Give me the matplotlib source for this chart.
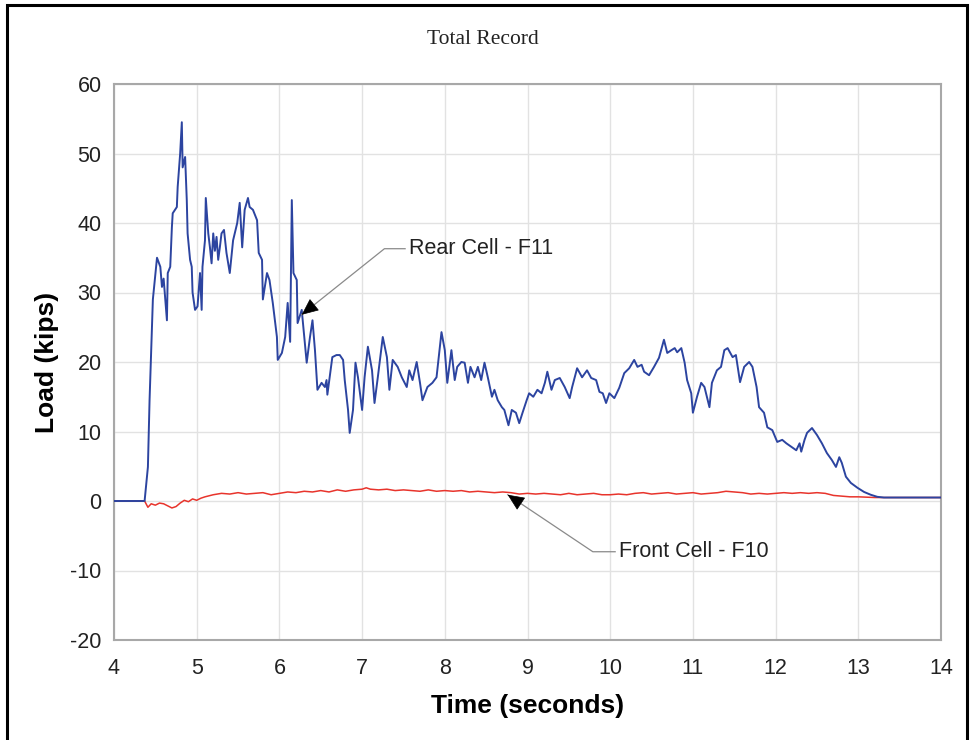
import matplotlib
matplotlib.use("Agg")
import matplotlib.pyplot as plt
from matplotlib.patches import Rectangle

# ---- data ----
rear_t = [4.00, 4.37, 4.41, 4.43, 4.47, 4.52, 4.56, 4.58, 4.60, 4.62, 4.64, 4.65, 4.68, 4.70, 4.71,
          4.76, 4.77, 4.80, 4.82, 4.83, 4.86, 4.88, 4.89, 4.92, 4.94, 4.95, 4.98, 5.01, 5.04, 5.06,
          5.07, 5.10, 5.11, 5.14, 5.16, 5.18, 5.20, 5.22, 5.24, 5.26, 5.28, 5.30, 5.33, 5.36, 5.40,
          5.44, 5.49, 5.52, 5.55, 5.58, 5.62, 5.64, 5.68, 5.73, 5.75, 5.79, 5.80, 5.85, 5.88, 5.92,
          5.97, 5.98, 6.03, 6.07, 6.10, 6.13, 6.15, 6.17, 6.21, 6.22, 6.27, 6.29, 6.33, 6.37, 6.40,
          6.43, 6.46, 6.51, 6.55, 6.57, 6.58, 6.64, 6.69, 6.73, 6.77, 6.79, 6.83, 6.85, 6.89, 6.92,
          6.95, 7.00, 7.03, 7.07, 7.12, 7.15, 7.19, 7.25, 7.30, 7.33, 7.37, 7.43, 7.48, 7.54, 7.57,
          7.61, 7.66, 7.70, 7.73, 7.79, 7.85, 7.90, 7.96, 8.00, 8.03, 8.08, 8.12, 8.15, 8.20, 8.24,
          8.28, 8.31, 8.36, 8.40, 8.44, 8.48, 8.52, 8.57, 8.60, 8.64, 8.69, 8.72, 8.77, 8.81, 8.86,
          8.90, 8.94, 8.99, 9.02, 9.07, 9.12, 9.17, 9.21, 9.24, 9.29, 9.33, 9.39, 9.45, 9.51, 9.54,
          9.60, 9.66, 9.72, 9.77, 9.83, 9.87, 9.91, 9.95, 9.99, 10.05, 10.11, 10.17, 10.23, 10.29, 10.33,
          10.38, 10.41, 10.47, 10.53, 10.59, 10.65, 10.69, 10.74, 10.78, 10.81, 10.86, 10.90, 10.93, 10.98, 11.00,
          11.05, 11.10, 11.14, 11.20, 11.23, 11.29, 11.34, 11.38, 11.42, 11.48, 11.52, 11.57, 11.62, 11.68, 11.72,
          11.77, 11.80, 11.86, 11.90, 11.96, 12.02, 12.08, 12.13, 12.19, 12.25, 12.29, 12.31, 12.35, 12.38, 12.44,
          12.50, 12.56, 12.62, 12.68, 12.73, 12.77, 12.80, 12.85, 12.91, 12.99, 13.07, 13.15, 13.23, 13.31, 14.00]
rear_load = [0.0, 0.0, 4.9, 14.5, 29.0, 35.0, 33.7, 30.8, 32.0, 29.0, 26.0, 32.8, 33.7, 39.4, 41.4,
             42.3, 45.2, 50.0, 54.5, 48.0, 49.5, 43.3, 38.5, 34.7, 33.7, 30.0, 27.5, 28.0, 32.8, 27.5,
             33.7, 37.5, 43.6, 38.5, 36.5, 34.2, 38.5, 36.0, 38.0, 34.7, 36.5, 38.5, 39.0, 35.7, 32.8,
             37.5, 40.0, 42.9, 36.5, 41.9, 43.6, 42.3, 41.9, 40.4, 35.7, 34.7, 29.0, 32.8, 31.8, 28.5,
             23.6, 20.3, 21.3, 23.6, 28.5, 22.9, 43.3, 32.8, 31.8, 25.6, 27.5, 25.0, 19.9, 23.6, 26.0,
             21.7, 16.0, 17.0, 16.4, 17.4, 15.3, 20.7, 21.0, 21.0, 20.3, 17.4, 13.1, 9.8, 13.1, 19.9,
             17.8, 13.1, 17.8, 22.2, 18.8, 14.1, 17.8, 23.6, 20.7, 16.0, 20.3, 19.3, 17.8, 16.4, 18.8,
             17.4, 20.0, 17.0, 14.5, 16.4, 17.0, 17.8, 24.3, 21.7, 17.0, 21.7, 17.4, 19.3, 20.0, 19.9,
             17.0, 19.3, 17.8, 19.3, 17.4, 19.9, 17.8, 15.0, 16.0, 14.5, 13.5, 13.1, 10.9, 13.1, 12.7,
             11.2, 12.7, 14.5, 15.5, 15.0, 16.0, 15.5, 17.0, 18.6, 16.0, 17.4, 17.7, 16.4, 14.8, 16.4,
             19.1, 17.8, 18.8, 17.7, 17.4, 15.7, 15.5, 14.1, 15.5, 14.8, 16.3, 18.4, 19.1, 20.3, 19.3,
             19.6, 18.6, 18.1, 19.3, 20.6, 23.2, 21.3, 21.7, 22.0, 21.4, 22.0, 19.9, 17.4, 15.5, 12.7,
             15.0, 17.0, 16.4, 13.5, 17.0, 18.8, 19.3, 21.7, 22.0, 20.7, 21.0, 17.1, 19.3, 20.0, 19.3,
             16.4, 13.5, 12.7, 10.6, 10.2, 8.5, 8.8, 8.3, 7.8, 7.3, 8.3, 7.1, 8.8, 9.8, 10.5,
             9.5, 8.3, 6.9, 5.9, 4.9, 6.3, 5.5, 3.5, 2.6, 1.9, 1.3, 0.9, 0.6, 0.5, 0.5]

front_t = [4.00, 4.37, 4.41, 4.45, 4.50, 4.55, 4.60, 4.65, 4.70, 4.75, 4.80, 4.85, 4.90, 4.95, 5.00,
           5.05, 5.10, 5.20, 5.30, 5.40, 5.50, 5.60, 5.70, 5.80, 5.90, 6.00, 6.10, 6.20, 6.30, 6.40,
           6.50, 6.60, 6.70, 6.80, 6.90, 7.00, 7.05, 7.10, 7.20, 7.30, 7.40, 7.50, 7.60, 7.70, 7.80,
           7.90, 8.00, 8.10, 8.20, 8.30, 8.40, 8.50, 8.60, 8.70, 8.80, 8.90, 9.00, 9.10, 9.20, 9.30,
           9.40, 9.50, 9.60, 9.70, 9.80, 9.90, 10.00, 10.10, 10.20, 10.30, 10.40, 10.50, 10.60, 10.70, 10.80,
           10.90, 11.00, 11.10, 11.20, 11.30, 11.40, 11.50, 11.60, 11.70, 11.80, 11.90, 12.00, 12.10, 12.20, 12.30,
           12.40, 12.50, 12.60, 12.70, 12.80, 12.90, 13.00, 13.20, 14.00]
front_load = [0.0, 0.0, -0.9, -0.4, -0.6, -0.3, -0.4, -0.7, -1.0, -0.8, -0.3, 0.1, -0.1, 0.3, 0.1,
              0.4, 0.6, 0.9, 1.1, 1.0, 1.2, 1.0, 1.1, 1.2, 0.9, 1.1, 1.3, 1.2, 1.4, 1.3,
              1.5, 1.3, 1.6, 1.4, 1.6, 1.7, 1.9, 1.7, 1.6, 1.7, 1.5, 1.6, 1.5, 1.4, 1.6,
              1.4, 1.5, 1.4, 1.5, 1.3, 1.4, 1.3, 1.2, 1.3, 1.2, 1.0, 1.1, 1.0, 1.1, 1.0,
              0.9, 1.1, 0.9, 1.0, 1.1, 0.9, 0.9, 1.0, 0.9, 1.1, 1.2, 1.0, 1.1, 1.2, 1.0,
              1.1, 1.2, 1.0, 1.1, 1.2, 1.4, 1.3, 1.2, 1.0, 1.1, 1.0, 1.1, 1.2, 1.1, 1.2,
              1.1, 1.2, 1.1, 0.8, 0.7, 0.6, 0.6, 0.5, 0.5]

x_ticks = [4, 5, 6, 7, 8, 9, 10, 11, 12, 13, 14]
y_ticks = [-20, -10, 0, 10, 20, 30, 40, 50, 60]

plt.rcParams['font.family'] = ['Liberation Sans', 'DejaVu Sans']
plt.rcParams['axes.unicode_minus'] = False

W, H = 971, 740
fig = plt.figure(figsize=(W / 100, H / 100), dpi=100)
ax = fig.add_axes([114 / W, 1 - 640 / H, (941 - 114) / W, (640 - 84) / H])

ax.plot(front_t, front_load, color='#e8342c', lw=1.1, zorder=3)
ax.plot(rear_t, rear_load, color='#2c44a0', lw=1.4, zorder=4)

ax.set_xlim(4, 14)
ax.set_ylim(-20, 60)
ax.set_xticks(x_ticks)
ax.set_yticks(y_ticks)
ax.grid(True, color='#e2e2e2', lw=1.0)
ax.set_axisbelow(True)
for s in ax.spines.values():
    s.set_color('#a8a8a8')
    s.set_linewidth(1.5)
ax.tick_params(length=0, labelsize=15.5, colors='#222222')
ax.tick_params(axis='x', pad=13)
ax.tick_params(axis='y', pad=9)

ax.set_xlabel('Time (seconds)', fontsize=19, fontweight='bold', labelpad=11)
ax.set_ylabel('Load (kips)', fontsize=19, fontweight='bold', labelpad=8)

fig.text(483 / W, 1 - 40 / H, 'Total Record', ha='center', va='center',
         fontsize=15.5, family='Liberation Serif', color='#222222')


def callout(tip, elbow, end, label):
    # gray leader line
    ax.plot([tip[0], elbow[0], end[0]], [tip[1], elbow[1], end[1]],
            color='#8a8a8a', lw=0.9, zorder=5)
    # black arrowhead at tip
    dx = elbow[0] - tip[0]
    dy = elbow[1] - tip[1]
    ax.annotate('', xy=tip, xytext=(tip[0] + dx * 0.08, tip[1] + dy * 0.08),
                arrowprops=dict(arrowstyle='-|>,head_length=0.9,head_width=0.4',
                                color='black', lw=0.5, shrinkA=0, shrinkB=0,
                                mutation_scale=12), zorder=6)
    ax.text(end[0] + 0.05, end[1], label, fontsize=15.5, va='center', ha='left',
            color='#222222')


callout((6.27, 26.8), (7.27, 36.3), (7.52, 36.3), 'Rear Cell - F11')
callout((8.76, 0.9), (9.79, -7.3), (10.06, -7.3), 'Front Cell - F10')

# figure border
fig.patches.append(Rectangle((7 / W, -0.01), (967 - 7) / W, 1 - 5 / H + 0.01,
                             transform=fig.transFigure, fill=False,
                             ec='black', lw=2.2, clip_on=False))

fig.savefig('out.png', dpi=100)
